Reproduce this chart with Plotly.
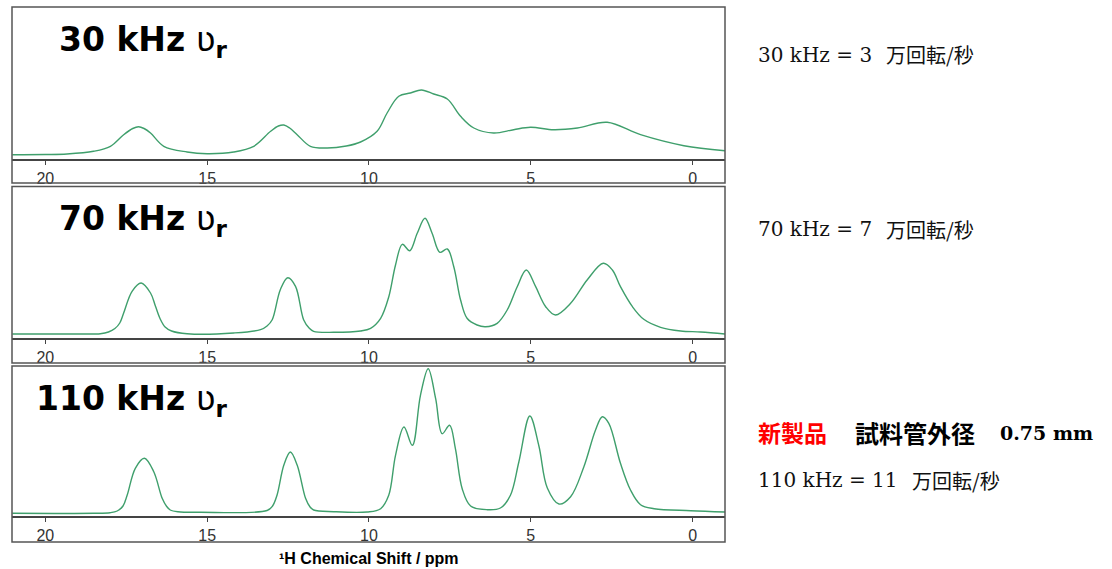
import plotly.graph_objects as go

W, H = 1112, 569

# ---------------- data (intensity in arbitrary units) ----------------
ppm_30 = [21.02, 20.0, 19.33, 18.51, 17.99, 17.58, 17.3, 17.12, 16.95, 16.75, 16.34, 15.62, 15.0,
          14.18, 13.56, 13.04, 12.8, 12.63, 12.45, 12.22, 11.81, 11.29, 10.7, 10.26, 9.75, 9.44,
          9.08, 8.72, 8.38, 8.0, 7.58, 7.17, 6.76, 6.15, 5.53, 5.01, 4.29, 3.56, 2.64, 1.61, 0.27, -1.0]
int_30 = [4.3, 4.5, 5, 7.7, 12.7, 24.3, 30.5, 32.3, 30.5, 26, 12.7, 7, 5.3,
          7, 12.7, 27.7, 33, 34, 31, 24.3, 12.7, 11, 13, 17, 27.7, 46,
          62.7, 66, 69, 65, 60, 42.7, 31, 26, 29.3, 31.7, 29.3, 31, 36.7, 24.3, 13.3, 8.3]

ppm_70 = [21.02, 19.0, 18.3, 18.05, 17.85, 17.7, 17.58, 17.32, 17.04, 16.75, 16.6, 16.45, 16.3,
          16.1, 15.62, 14.18, 13.35, 13.15, 12.99, 12.74, 12.51, 12.27, 12.02, 11.85, 11.71, 11.09,
          10.26, 9.95, 9.64, 9.39, 9.18, 8.97, 8.74, 8.51, 8.27, 8.05, 7.81, 7.58, 7.38, 7.17, 6.97,
          6.66, 6.4, 6.04, 5.73, 5.42, 5.14, 4.85, 4.54, 4.24, 3.77, 3.26, 2.76, 2.48, 2.23, 1.86,
          1.51, 0.99, 0.37, -0.25, -1.0]
int_70 = [4, 4, 4.3, 6, 9.5, 15, 25, 46.7, 55, 45, 32, 19, 11,
          7, 4.3, 5, 8.3, 12, 18.3, 48.3, 60.3, 51.7, 18.3, 10, 6.7, 5.7,
          7, 9.7, 19.7, 41, 73, 93.7, 87.3, 104.7, 119.7, 104.7, 85.7, 89, 71.3, 38, 19.7,
          13, 11.3, 14.7, 28, 51.3, 68, 51.3, 31.3, 23, 34.7, 58, 74.7, 68, 51.3, 31.3,
          18.7, 10.7, 7, 6, 4]

ppm_110 = [21.02, 18.5, 18.0, 17.78, 17.6, 17.47, 17.22, 16.94, 16.65, 16.39, 16.25, 16.14, 15.9,
           15.21, 13.15, 12.98, 12.84, 12.63, 12.43, 12.22, 11.96, 11.82, 11.71, 11.09, 10.06, 9.64,
           9.39, 9.18, 8.92, 8.66, 8.41, 8.17, 7.94, 7.74, 7.51, 7.33, 7.12, 6.86, 6.35, 5.94, 5.63,
           5.37, 5.03, 4.75, 4.49, 4.13, 3.77, 3.36, 3.0, 2.79, 2.59, 2.23, 1.92, 1.61, 1.19, 0.06, -1.0]
int_110 = [2.7, 2.7, 3.3, 5, 10, 21, 47.7, 57.7, 44.3, 17.7, 9.5, 6, 4.2,
           3.7, 5.5, 10, 21, 51, 64, 51, 17.7, 9, 6, 4.3, 4, 7.3,
           20.7, 60.7, 89, 70.7, 120.7, 147.3, 117.3, 82.3, 90.7, 67.3, 27.3, 10, 6.3, 8, 20.7,
           54, 100, 70, 28, 12, 19.3, 49.3, 86, 99.3, 92.7, 52.7, 26, 11.3, 7.3, 5.3, 4]

tick_vals = [20, 15, 10, 5, 0]
panel_titles = ["30 kHz", "70 kHz", "110 kHz"]
right_latin = ["30 kHz = 3", "70 kHz = 7", "110 kHz = 11"]
right_cjk = "万回転/秒"
new_label = "新製品"
tube_label = "試料管外径"
tube_size = "0.75 mm"
x_title = "¹H Chemical Shift / ppm"

# ---------------- layout helpers (pixel -> paper) ----------------
def px(x):
    return x / W

def py(y):
    return 1 - y / H

# panel geometry in pixels: (box top, axis line, box bottom)
panels = [(7, 159, 183), (186.5, 338, 363), (366, 516, 542)]
X_LEFT, X_RIGHT = 12, 725
XRANGE = [21.03, -1.0]
LINE_COLOR = "#3f9f6c"
BOX_COLOR = "#555555"

series = [(ppm_30, int_30), (ppm_70, int_70), (ppm_110, int_110)]

fig = go.Figure()
for i, (xs, ys) in enumerate(series):
    sfx = "" if i == 0 else str(i + 1)
    fig.add_trace(go.Scatter(
        x=xs, y=ys, mode="lines",
        line=dict(color=LINE_COLOR, width=1.4, shape="spline", smoothing=1.0),
        xaxis="x" + sfx, yaxis="y" + sfx, showlegend=False, hoverinfo="skip"))

layout = dict(
    width=W, height=H, autosize=False,
    margin=dict(l=0, r=0, t=0, b=0),
    paper_bgcolor="white", plot_bgcolor="white",
    showlegend=False,
)
shapes = []
annotations = []
for i, (top, axis_y, bottom) in enumerate(panels):
    sfx = "" if i == 0 else str(i + 1)
    layout["xaxis" + sfx] = dict(
        domain=[px(X_LEFT), px(X_RIGHT)], range=XRANGE, anchor="y" + sfx,
        showline=True, linecolor="#444444", linewidth=1.5,
        ticks="outside", ticklen=4, tickwidth=1, tickcolor="#444444",
        tickvals=tick_vals, ticktext=[str(v) for v in tick_vals],
        tickfont=dict(family="Liberation Sans, Arial", size=16, color="#333333"),
        showgrid=False, zeroline=False, fixedrange=True,
    )
    layout["yaxis" + sfx] = dict(
        domain=[py(axis_y), py(top)], range=[0, axis_y - top], anchor="x" + sfx,
        visible=False, showgrid=False, zeroline=False, fixedrange=True,
    )
    shapes.append(dict(type="rect", xref="paper", yref="paper",
                       x0=px(X_LEFT), x1=px(X_RIGHT), y0=py(bottom), y1=py(top),
                       line=dict(color=BOX_COLOR, width=1.5), fillcolor="rgba(0,0,0,0)",
                       layer="above"))
    annotations.append(dict(
        xref="paper", yref="paper", x=px(229), y=py(top + 34),
        xanchor="right", yanchor="middle", showarrow=False,
        text="<b>" + panel_titles[i] + "</b> ʋ<sub><b>r</b></sub>",
        font=dict(family="DejaVu Sans", size=33, color="black")))

# right-hand explanatory text
serif = "DejaVu Serif, Liberation Serif, serif"
cjk = "Noto Sans CJK JP"
text_rows = [(55, 886), (229, 886), (480, 912)]
for i, (yc, xc) in enumerate(text_rows):
    annotations.append(dict(xref="paper", yref="paper", x=px(756), y=py(yc),
                            xanchor="left", yanchor="middle", showarrow=False,
                            text=right_latin[i],
                            font=dict(family=serif, size=20, color="#111111")))
    annotations.append(dict(xref="paper", yref="paper", x=px(xc - 2), y=py(yc),
                            xanchor="left", yanchor="middle", showarrow=False,
                            text=right_cjk,
                            font=dict(family=cjk, size=20, color="#111111")))

annotations.append(dict(xref="paper", yref="paper", x=px(756), y=py(432),
                        xanchor="left", yanchor="middle", showarrow=False,
                        text="<b>" + new_label + "</b>",
                        font=dict(family=cjk, size=23, color="#ff0000")))
annotations.append(dict(xref="paper", yref="paper", x=px(853), y=py(432),
                        xanchor="left", yanchor="middle", showarrow=False,
                        text="<b>" + tube_label + "</b>",
                        font=dict(family=cjk, size=24, color="black")))
annotations.append(dict(xref="paper", yref="paper", x=px(998), y=py(433),
                        xanchor="left", yanchor="middle", showarrow=False,
                        text="<b>" + tube_size + "</b>",
                        font=dict(family=serif, size=19, color="black")))

annotations.append(dict(xref="paper", yref="paper", x=px(369), y=py(558),
                        xanchor="center", yanchor="middle", showarrow=False,
                        text="<b>" + x_title + "</b>",
                        font=dict(family="Liberation Sans, Arial", size=16, color="black")))

layout["shapes"] = shapes
layout["annotations"] = annotations
fig.update_layout(**layout)
fig.write_html("out.html",
               config={"displayModeBar": False, "staticPlot": True},
               post_script="document.body.style.margin='0';document.body.style.overflow='hidden';")
